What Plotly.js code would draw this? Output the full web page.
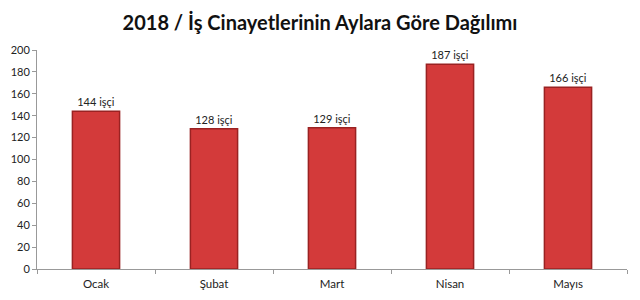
<!DOCTYPE html>
<html><head><meta charset="utf-8">
<script src="https://cdn.plot.ly/plotly-3.0.1.min.js"></script>
<style>body{margin:0;background:#fff}#c{width:640px;height:300px}</style>
</head><body><div id="c"></div>
<script>
const months = ["Ocak", "Şubat", "Mart", "Nisan", "Mayıs"];
const deaths = [144, 128, 129, 187, 166];
const labelSuffix = " işçi";

const trace = {
  type: "bar",
  x: months,
  y: deaths,
  width: 0.4,
  text: deaths.map(v => v + labelSuffix),
  textposition: "outside",
  cliponaxis: false,
  textfont: {family: "Lato, 'Open Sans', sans-serif", size: 11, color: "#222"},
  marker: {color: "#d33a3a", line: {color: "#9a2222", width: 1.5}},
  hoverinfo: "none"
};
const layout = {
  width: 640, height: 300,
  margin: {l: 37, r: 13, t: 50, b: 31},
  paper_bgcolor: "#fff", plot_bgcolor: "#fff",
  showlegend: false,
  title: {text: "<b>2018 / İş Cinayetlerinin Aylara Göre Dağılımı</b>", x: 0.5, xanchor: "center", y: 0.925, yanchor: "middle",
          font: {family: "Lato, 'Open Sans', sans-serif", size: 20, color: "#111"}},
  xaxis: {showgrid: false, zeroline: false, showline: true, linecolor: "#999", linewidth: 1,
          ticks: "outside", tickson: "boundaries", ticklen: 4, tickcolor: "#999",
          ticklabelstandoff: 4,
          tickfont: {family: "Lato, 'Open Sans', sans-serif", size: 11.5, color: "#222"}},
  yaxis: {range: [0, 200], dtick: 20, showgrid: false, zeroline: false, showline: true, linecolor: "#999", linewidth: 1,
          ticks: "outside", ticklen: 4, tickcolor: "#999",
          tickfont: {family: "Lato, 'Open Sans', sans-serif", size: 11, color: "#222"}},
  bargap: 0.6
};
Plotly.newPlot("c", [trace], layout, {displayModeBar: false, staticPlot: true});
</script></body></html>
